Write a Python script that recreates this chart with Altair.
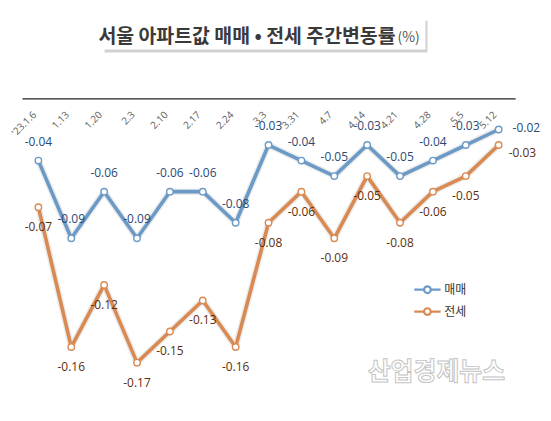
import altair as alt
import pandas as pd

# ---- data ----
dates = ["'23.1.6", "1.13", "1.20", "2.3", "2.10", "2.17", "2.24", "3.3",
         "3.31", "4.7", "4.14", "4.21", "4.28", "5.5", "5.12"]
sale = [-0.04, -0.09, -0.06, -0.09, -0.06, -0.06, -0.08, -0.03,
        -0.04, -0.05, -0.03, -0.05, -0.04, -0.03, -0.02]
jeonse = [-0.07, -0.16, -0.12, -0.17, -0.15, -0.13, -0.16, -0.08,
          -0.06, -0.09, -0.05, -0.08, -0.06, -0.05, -0.03]
series_names = ["매매", "전세"]
title_main = "서울 아파트값 매매 • 전세 주간변동률"
title_unit = "(%)"
watermark = "산업경제뉴스"

# ---- styles ----
BLUE = "#6b9ac6"
ORANGE = "#d98a52"
BLUE_TXT = "#2a4a74"
BROWN_TXT = "#5c2e0e"
KFONT = "Noto Sans CJK KR"
NFONT = "Open Sans"

rows = []
n = len(dates)
for name, vals in zip(series_names, [sale, jeonse]):
    for i, d in enumerate(dates):
        rows.append({"date": d, "series": name, "value": vals[i],
                     "label": f"{vals[i]:.2f}", "last": i == n - 1})
df = pd.DataFrame(rows)
df_dates = pd.DataFrame({"date": dates})

X = alt.X("date:N", sort=dates,
          scale=alt.Scale(type="point", padding=0.5),
          axis=alt.Axis(orient="top", domain=True, domainColor="#222222",
                        domainWidth=1.2, labels=False, ticks=False,
                        grid=False, title=None))
Y = alt.Y("value:Q", scale=alt.Scale(domain=[-0.2, 0], nice=False, zero=False),
          axis=None)

legend_path = ("M-1.1,0L-0.28,0M0.28,0L1.1,0"
               "M-0.28,0A0.28,0.28 0 1,1 0.28,0A0.28,0.28 0 1,1 -0.28,0Z")
COLOR = alt.Color("series:N",
                  scale=alt.Scale(domain=series_names, range=[BLUE, ORANGE]),
                  legend=alt.Legend(title=None, orient="none", legendX=393.5,
                                    legendY=178.5, padding=0,
                                    symbolType=legend_path, symbolSize=576,
                                    symbolStrokeWidth=2.2,
                                    symbolFillColor="white",
                                    labelFont=KFONT, labelFontSize=12,
                                    labelColor="#333333", labelOffset=3.5,
                                    rowPadding=0))

base = alt.Chart(df).encode(x=X, y=Y)

shadow = base.mark_line(color="#808080", strokeWidth=6.5, opacity=0.16,
                        strokeJoin="round", strokeCap="round").encode(
    detail="series:N")
lines = base.mark_line(strokeWidth=3.6, strokeJoin="round").encode(color=COLOR)
points = base.mark_point(filled=False, fill="white", size=42, strokeWidth=1.4,
                         opacity=1).encode(color=COLOR)

lab_style = dict(font=NFONT, fontSize=12, baseline="middle")
sale_lab = base.transform_filter(
    (alt.datum.series == "매매") & (alt.datum.last == False)
).mark_text(align="center", dy=-19, color=BLUE_TXT, **lab_style).encode(text="label:N")
sale_last = base.transform_filter(
    (alt.datum.series == "매매") & (alt.datum.last == True)
).mark_text(align="left", dx=14, dy=-1, color=BLUE_TXT, **lab_style).encode(text="label:N")
jeon_lab = base.transform_filter(
    (alt.datum.series == "전세") & (alt.datum.last == False)
).mark_text(align="center", dy=20, color=BROWN_TXT, **lab_style).encode(text="label:N")
jeon_last = base.transform_filter(
    (alt.datum.series == "전세") & (alt.datum.last == True)
).mark_text(align="left", dx=10, dy=8, color=BROWN_TXT, **lab_style).encode(text="label:N")

xlabels = alt.Chart(df_dates).mark_text(
    angle=315, align="right", baseline="middle", dx=-2.5, dy=-2.5,
    font=NFONT, fontSize=10, color="#5e5e5e"
).encode(x=X, y=alt.value(15), text="date:N")

one = pd.DataFrame({"main": [title_main], "unit": [title_unit], "wm": [watermark]})
box_shadow = alt.Chart(one).mark_rect(fill="#bdbdbd", opacity=0.7).encode(
    x=alt.value(83), x2=alt.value(407), y=alt.value(-78), y2=alt.value(-46))
box = alt.Chart(one).mark_rect(fill="white").encode(
    x=alt.value(81), x2=alt.value(405), y=alt.value(-80), y2=alt.value(-49))
t_main = alt.Chart(one).mark_text(
    align="right", baseline="middle", font=KFONT, fontSize=19.5,
    fontWeight="bold", color="#3a3a3a"
).encode(x=alt.value(375), y=alt.value(-62), text="main:N")
t_unit = alt.Chart(one).mark_text(
    align="left", baseline="middle", font=KFONT, fontSize=14,
    color="#555555"
).encode(x=alt.value(377), y=alt.value(-61), text="unit:N")
wm = alt.Chart(one).mark_text(
    align="center", baseline="middle", font=KFONT, fontSize=25,
    fontWeight="bold", fill="white", stroke="#c4c4c4", strokeWidth=1
).encode(x=alt.value(416), y=alt.value(275), text="wm:N")

chart = alt.layer(
    box_shadow, box, t_main, t_unit, wm,
    shadow, lines, points, sale_lab, sale_last, jeon_lab, jeon_last, xlabels
).properties(
    width=495, height=312,
    padding={"left": 14, "top": 90, "right": 28, "bottom": 0},
    autosize=alt.AutoSizeParams(type="none"),
    background="white",
).configure_view(stroke=None)

chart.save("out.html", embed_options={"renderer": "svg", "actions": False})
